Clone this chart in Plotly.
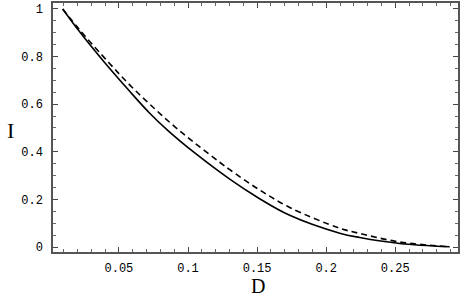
import plotly.graph_objects as go

# Solid curve
d_solid = [0.0093, 0.0216, 0.0395, 0.0578, 0.0723, 0.0853, 0.1049, 0.1302, 0.1504,
           0.1736, 0.2098, 0.2242, 0.2532, 0.2894]
i_solid = [1.0, 0.904, 0.776, 0.654, 0.562, 0.49, 0.395, 0.285, 0.208,
           0.133, 0.058, 0.040, 0.015, 0.001]

# Dashed curve
d_dash = [0.0093, 0.0216, 0.0431, 0.0578, 0.0723, 0.0889, 0.1049, 0.1229, 0.1302,
          0.1504, 0.1736, 0.2098, 0.2242, 0.2532, 0.2894]
i_dash = [1.0, 0.912, 0.772, 0.681, 0.600, 0.513, 0.437, 0.356, 0.325,
          0.245, 0.166, 0.079, 0.057, 0.021, 0.001]

x_ticks = [0.05, 0.1, 0.15, 0.2, 0.25]
x_tick_labels = ["0.05", "0.1", "0.15", "0.2", "0.25"]
y_ticks = [0, 0.2, 0.4, 0.6, 0.8, 1]
y_tick_labels = ["0", "0.2", "0.4", "0.6", "0.8", "1"]

fig = go.Figure()
fig.add_trace(go.Scatter(x=d_solid, y=i_solid, mode="lines",
                         line=dict(color="black", width=1.6, shape="spline"),
                         showlegend=False))
fig.add_trace(go.Scatter(x=d_dash, y=i_dash, mode="lines",
                         line=dict(color="black", width=1.6, shape="spline", dash="6px,4px"),
                         showlegend=False))

tickfont = dict(family="Liberation Mono", size=12, color="black")
fig.update_layout(
    width=461, height=297,
    margin=dict(l=53, r=3, t=1, b=45),
    paper_bgcolor="white", plot_bgcolor="white",
    font=dict(family="Liberation Mono"),
    xaxis=dict(range=[0.0023, 0.2954], tickvals=x_ticks, ticktext=x_tick_labels,
               ticks="inside", ticklen=5, tickwidth=1, tickcolor="#444",
               minor=dict(dtick=0.01, ticks="inside", ticklen=3, tickcolor="#666"),
               showline=True, linecolor="#555", linewidth=1.5, mirror="ticks",
               showgrid=False, zeroline=False, tickfont=tickfont, ticklabelstandoff=4),
    yaxis=dict(range=[-0.021, 1.025], tickvals=y_ticks, ticktext=y_tick_labels,
               ticks="inside", ticklen=5, tickwidth=1, tickcolor="#444",
               minor=dict(dtick=0.05, ticks="inside", ticklen=3, tickcolor="#666"),
               showline=True, linecolor="#555", linewidth=1.5, mirror="ticks",
               showgrid=False, zeroline=False, tickfont=tickfont, ticklabelstandoff=6),
    annotations=[
        dict(text="I", x=10, y=130, xref="paper", yref="paper", showarrow=False,
             font=dict(family="Liberation Serif", size=22, color="black")),
        dict(text="D", x=258, y=286, xref="paper", yref="paper", showarrow=False,
             font=dict(family="Liberation Serif", size=20, color="black")),
    ],
)
# convert annotation pixel positions to paper coords
pw, ph = 461 - 53 - 3, 297 - 1 - 45
for a in fig.layout.annotations:
    px, py = a.x, a.y
    a.x = (px - 53) / pw
    a.y = (297 - 45 - py) / ph
    a.xanchor = "center"
    a.yanchor = "middle"

fig.write_html("out.html", config={"displayModeBar": False},
               post_script="document.body.style.margin='0px';document.body.style.overflow='hidden';")
